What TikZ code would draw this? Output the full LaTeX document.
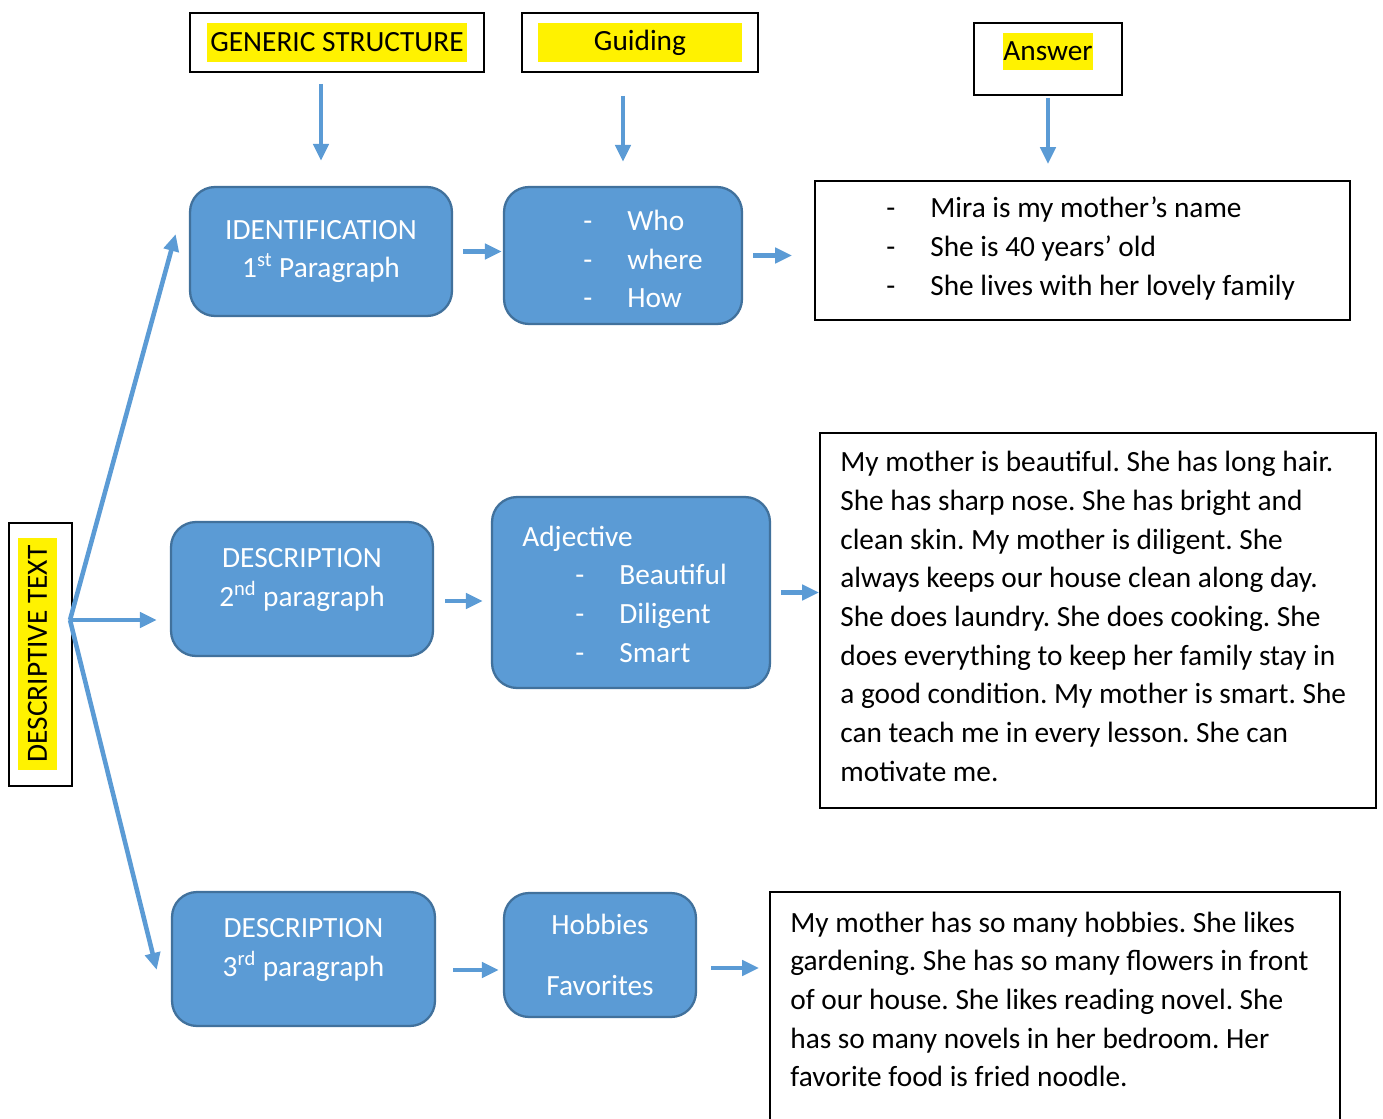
\documentclass[tikz,border=0pt]{standalone}
\usepackage{fontspec}
\setmainfont{Carlito}
\usetikzlibrary{arrows.meta,positioning,calc}
\definecolor{boxblue}{RGB}{91,155,213}
\definecolor{boxedge}{RGB}{65,113,156}
\newcommand{\lst}[1]{\makebox[0.88cm][l]{-}#1}
\frenchspacing

\begin{document}
\begin{tikzpicture}[
	x=0.02cm,y=-0.02cm,
	font=\fontsize{16.7}{22}\selectfont,
	stage/.style={draw=boxedge,line width=1.3pt,fill=boxblue,rounded corners=0.5cm,text=white,align=center,inner sep=0pt},
	header/.style={draw=black,line width=1pt,inner sep=0pt},
	hilite/.style={fill=yellow,inner sep=0pt},
	answer/.style={draw=black,line width=1pt,inner sep=0pt},
	anstext/.style={anchor=west,align=left,inner sep=0pt},
	flow/.style={-{Triangle[length=0.34cm,width=0.3cm]},draw=boxblue,line width=2.6pt}
	]
	\clip (0,0) rectangle (1383,1119);
	
	% Intestazioni
	\node[header,minimum width=5.88cm,minimum height=1.18cm] (gen) at (337,42.5) {};
	\node[hilite,minimum width=5.22cm,minimum height=0.78cm] (genhl) at (gen.center) {GENERIC STRUCTURE};
	\node[header,minimum width=4.72cm,minimum height=1.18cm] (guide) at (640,42.5) {};
	\node[hilite,minimum width=4.08cm,minimum height=0.78cm] (guidehl) at (guide.center) {Guiding};
	\node[header,minimum width=2.96cm,minimum height=1.44cm] (ans) at (1048,59) {};
	\node[hilite,minimum width=1.8cm,minimum height=0.74cm] (anshl) at (1048,51.5) {Answer};
	
	% Testo descrittivo
	\node[header,rotate=90,minimum width=5.26cm,minimum height=1.26cm] (desc) at (40.5,654.5) {};
	\node[hilite,rotate=90,minimum width=4.64cm,minimum height=0.78cm] (deschl) at (37.5,654) {DESCRIPTIVE TEXT};
	\coordinate (fan) at (70,620);
	
	% Paragrafi
	\node[stage,minimum width=5.24cm,minimum height=2.58cm] (ident) at (321,251.5) {IDENTIFICATION\\1\textsuperscript{st} Paragraph};
	\node[stage,minimum width=5.24cm,minimum height=2.68cm,text depth=0.45cm] (desc1) at (302,589) {DESCRIPTION\\2\textsuperscript{nd} paragraph};
	\node[stage,minimum width=5.26cm,minimum height=2.68cm,text depth=0.45cm] (desc2) at (303.5,959) {DESCRIPTION\\3\textsuperscript{rd} paragraph};
	
	% Domande guida
	\node[stage,minimum width=4.76cm,minimum height=2.74cm] (who) at (623,255.5) {};
	\node[anstext,text=white] (whotxt) at (583,259) {\lst{Who}\\\lst{where}\\\lst{How}};
	\node[stage,minimum width=5.56cm,minimum height=3.82cm] (adj) at (631,592.5) {};
	\node[anstext,text=white] (adjtxt) at (522,594) {Adjective\\\hspace*{1.06cm}\lst{Beautiful}\\\hspace*{1.06cm}\lst{Diligent}\\\hspace*{1.06cm}\lst{Smart}};
	\node[stage,minimum width=3.84cm,minimum height=2.48cm] (hob) at (600,955) {Hobbies\\[0.45cm]Favorites};
	
	% Risposte
	\node[answer,minimum width=10.7cm,minimum height=2.78cm] (ans1) at (1082.5,250.5) {};
	\node[anstext] (ans1txt) at (886,248.5) {\lst{Mira is my mother’s name}\\\lst{She is 40 years’ old}\\\lst{She lives with her lovely family}};
	\node[answer,minimum width=11.12cm,minimum height=7.5cm] (ans2) at (1098,620.5) {};
	\node[anstext] (ans2txt) at (840,616.5) {My mother is beautiful. She has long hair.\\
		She has sharp nose. She has bright and\\
		clean skin. My mother is diligent. She\\
		always keeps our house clean along day.\\
		She does laundry. She does cooking. She\\
		does everything to keep her family stay in\\
		a good condition. My mother is smart. She\\
		can teach me in every lesson. She can\\
		motivate me.};
	\node[answer,minimum width=11.4cm,minimum height=5cm] (ans3) at (1055,1017) {};
	\node[anstext] (ans3txt) at (790,999.5) {My mother has so many hobbies. She likes\\
		gardening. She has so many flowers in front\\
		of our house. She likes reading novel. She\\
		has so many novels in her bedroom. Her\\
		favorite food is fried noodle.};
	
	% Frecce
	\draw[flow,shorten >=1.0cm] (fan) -- (ident.north west);
	\draw[flow,shorten >=0.26cm] (fan) -- (fan -| desc1.west);
	\draw[flow,shorten >=1.18cm] (fan) -- (desc2.south west);
	
	\draw[flow,shorten <=0.22cm,shorten >=0.5cm] (ident.north |- gen.south) -- (ident.north);
	\draw[flow,shorten <=0.46cm,shorten >=0.48cm] (who.north |- guide.south) -- (who.north);
	\draw[flow,shorten <=0.04cm,shorten >=0.32cm] (ans.south) -- (ans.south |- ans1.north);
	
	\draw[flow,shorten <=0.2cm,shorten >=0.02cm] (ident.east) -- (ident.east -| who.west);
	\draw[flow,shorten <=0.2cm,shorten >=0.44cm] (who.east) -- (who.east -| ans1.west);
	\draw[flow,shorten <=0.22cm,shorten >=0.16cm] ([yshift=-0.24cm]desc1.east) -- ([yshift=-0.24cm]desc1.east -| adj.west);
	\draw[flow,shorten <=0.2cm] (adj.east) -- (adj.east -| ans2.west);
	\draw[flow,shorten <=0.34cm,shorten >=0.08cm] ([yshift=-0.22cm]desc2.east) -- ([yshift=-0.22cm]desc2.east -| hob.west);
	\draw[flow,shorten <=0.28cm,shorten >=0.2cm] ([yshift=-0.26cm]hob.east) -- ([yshift=-0.26cm]hob.east -| ans3.west);
	
\end{tikzpicture}
\end{document}
